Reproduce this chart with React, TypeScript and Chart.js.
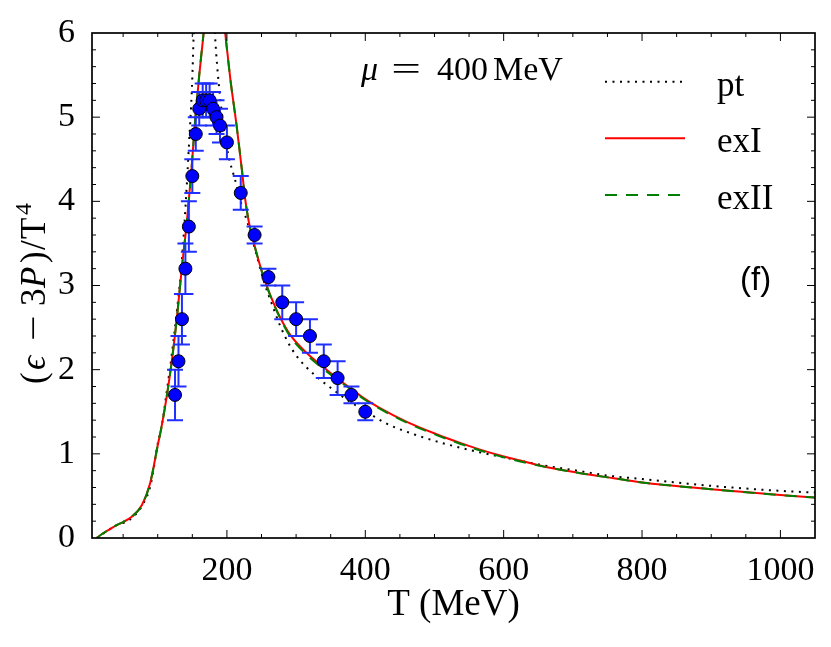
import React, { useEffect, useRef } from "react";
import { Chart, registerables } from "chart.js";

Chart.register(...registerables);

// ---- data ----
const latticeT = [125, 130, 135, 140, 145, 150, 155, 160, 165, 170, 175, 180, 185, 190, 200, 220, 240, 260, 280, 300, 320, 340, 360, 380, 400];
const latticeValues = [1.7, 2.1, 2.6, 3.2, 3.7, 4.3, 4.8, 5.1, 5.2, 5.2, 5.2, 5.1, 5.0, 4.9, 4.7, 4.1, 3.6, 3.1, 2.8, 2.6, 2.4, 2.1, 1.9, 1.7, 1.5];
const latticeErrors = [0.3, 0.3, 0.3, 0.3, 0.3, 0.2, 0.2, 0.2, 0.2, 0.2, 0.2, 0.2, 0.2, 0.2, 0.2, 0.2, 0.1, 0.1, 0.2, 0.2, 0.2, 0.2, 0.2, 0.1, 0.1];

const ptT = [12, 40, 60, 80, 90, 100, 106, 113, 120, 128, 135, 141, 145, 149.5, 152, 157, 163, 170, 177, 183, 186, 190, 195, 202, 212, 219, 230, 240, 253, 265, 277, 288, 300, 316, 335, 354, 374, 400, 428, 471, 515, 559, 605, 660, 706, 752, 800, 900, 1000, 1050];
const ptValues = [0, 0.15, 0.22, 0.42, 0.64, 1.12, 1.34, 1.74, 2.16, 2.72, 3.3, 4.05, 4.65, 5.36, 6.0, 7.2, 8.4, 8.0, 7.0, 5.95, 5.6, 5.25, 4.9, 4.55, 4.25, 4.02, 3.74, 3.45, 3.06, 2.78, 2.52, 2.33, 2.17, 2.02, 1.88, 1.76, 1.64, 1.51, 1.37, 1.23, 1.12, 1.03, 0.95, 0.86, 0.8, 0.74, 0.7, 0.62, 0.56, 0.54];

const exIT = [12, 20, 30, 40, 50, 62, 77, 89, 100, 105, 113, 120, 128, 135, 142, 148, 154, 160, 167, 175, 182, 190, 197.5, 205, 214, 222, 226, 232, 238.5, 245, 253, 267, 277, 291, 315, 344, 380, 400, 420, 460, 504, 537, 566, 595, 624, 663, 711, 759, 800, 900, 1000, 1050];
const exIValues = [0, 0.05, 0.1, 0.15, 0.19, 0.25, 0.39, 0.65, 1.1, 1.3, 1.68, 2.08, 2.64, 3.22, 3.75, 4.3, 4.95, 5.5, 6.05, 6.6, 6.9, 6.6, 6.0, 5.45, 4.9, 4.35, 4.05, 3.74, 3.52, 3.32, 3.1, 2.8, 2.62, 2.42, 2.2, 2.0, 1.77, 1.65, 1.55, 1.38, 1.23, 1.13, 1.05, 0.98, 0.92, 0.84, 0.77, 0.71, 0.66, 0.58, 0.51, 0.48];

const exIIT = [12, 20, 30, 40, 50, 62, 77, 89, 100, 105, 113, 120, 128, 135, 142, 148, 154, 160, 167, 175, 182, 190, 197.5, 205, 214, 222, 226, 232, 238.5, 245, 253, 267, 277, 291, 315, 344, 380, 400, 420, 460, 504, 537, 566, 595, 624, 663, 711, 759, 800, 900, 1000, 1050];
const exIIValues = [0, 0.05, 0.1, 0.15, 0.19, 0.25, 0.39, 0.65, 1.1, 1.3, 1.68, 2.08, 2.64, 3.22, 3.75, 4.3, 4.95, 5.5, 6.05, 6.6, 6.9, 6.6, 6.0, 5.45, 4.9, 4.35, 4.05, 3.74, 3.52, 3.32, 3.1, 2.79, 2.61, 2.4, 2.18, 1.98, 1.76, 1.64, 1.54, 1.37, 1.22, 1.12, 1.04, 0.97, 0.91, 0.84, 0.77, 0.71, 0.66, 0.58, 0.51, 0.48];

const xTickValues = [200, 400, 600, 800, 1000];
const yTickValues = [0, 1, 2, 3, 4, 5, 6];
const xRange = [5, 1050];
const yRange = [0, 6];
const xMinorStep = 50;
const yMinorStep = 0.2;

const legendLabels = ["pt", "exI", "exII"];
const chemicalPotentialText = ["\u03bc", "=", "400", "MeV"];
const panelLabel = "(f)";
const xTitle = "T (MeV)";
// y title glyphs: text, italic?, superscript?
const yTitleGlyphs: [string, boolean, boolean][] = [
  ["(", false, false],
  ["\u03f5", true, false],
  ["\u2212", false, false],
  ["3", false, false],
  ["P", true, false],
  [")", false, false],
  ["/", false, false],
  ["T", false, false],
  ["4", false, true],
];
// layout: offset of each glyph along the rotated title (px)
const yTitleOffsets = [0, 14, 43, 78, 96, 121, 134, 145, 169];

const SERIF = '"Liberation Serif", "DejaVu Serif", serif';
const SANS = '"Liberation Sans", "DejaVu Sans", sans-serif';

const PT_DASH = [2, 5.5];
const EXII_DASH = [12, 9];

const errorBarsPlugin = {
  id: "errorBars",
  beforeDatasetDraw(chart: any, args: any) {
    if (args.index !== 0) return;
    const { ctx, scales } = chart;
    const xs = scales.x;
    const ys = scales.y;
    ctx.save();
    ctx.strokeStyle = "#1f2fff";
    ctx.lineWidth = 2;
    latticeT.forEach((t, i) => {
      const x = xs.getPixelForValue(t);
      const yt = ys.getPixelForValue(latticeValues[i] + latticeErrors[i]);
      const yb = ys.getPixelForValue(latticeValues[i] - latticeErrors[i]);
      ctx.beginPath();
      ctx.moveTo(x, yt);
      ctx.lineTo(x, yb);
      ctx.moveTo(x - 8, yt);
      ctx.lineTo(x + 8, yt);
      ctx.moveTo(x - 8, yb);
      ctx.lineTo(x + 8, yb);
      ctx.stroke();
    });
    ctx.restore();
  },
};

const framePlugin = {
  id: "frameTicks",
  afterDraw(chart: any) {
    const { ctx, chartArea: a, scales } = chart;
    const xs = scales.x;
    const ys = scales.y;
    ctx.save();
    ctx.strokeStyle = "#000";
    ctx.lineWidth = 1;
    const line = (x1: number, y1: number, x2: number, y2: number) => {
      ctx.beginPath();
      ctx.moveTo(x1, y1);
      ctx.lineTo(x2, y2);
      ctx.stroke();
    };
    const nx = Math.floor(xRange[1] / xMinorStep);
    for (let i = 1; i <= nx; i++) {
      const v = i * xMinorStep;
      if (v <= xRange[0] || v >= xRange[1]) continue;
      const major = xTickValues.includes(v);
      const len = major ? 8 : 4;
      const x = xs.getPixelForValue(v);
      line(x, a.bottom, x, a.bottom - len);
      line(x, a.top, x, a.top + len);
    }
    const ny = Math.round((yRange[1] - yRange[0]) / yMinorStep);
    for (let i = 1; i < ny; i++) {
      const v = yRange[0] + i * yMinorStep;
      const major = i % 5 === 0;
      const len = major ? 8 : 4;
      const y = ys.getPixelForValue(v);
      line(a.left, y, a.left + len, y);
      line(a.right, y, a.right - len, y);
    }
    ctx.lineWidth = 1.7;
    ctx.strokeRect(a.left, a.top, a.right - a.left, a.bottom - a.top);

    // y axis title: (ϵ − 3P)/T⁴, rotated
    const fs = 35;
    ctx.save();
    ctx.translate(45, 384);
    ctx.rotate(-Math.PI / 2);
    ctx.fillStyle = "#000";
    ctx.textBaseline = "alphabetic";
    ctx.textAlign = "left";
    yTitleGlyphs.forEach(([t, it, sup], i) => {
      const size = sup ? Math.round(fs * 0.68) : fs;
      ctx.font = `${it ? "italic " : ""}${size}px ${SERIF}`;
      if (t === "\u2212") {
        ctx.save();
        ctx.translate(yTitleOffsets[i], 0);
        ctx.scale(1.3, 1);
        ctx.fillText(t, 0, 0);
        ctx.restore();
      } else {
        ctx.fillText(t, yTitleOffsets[i], sup ? -14 : 0);
      }
    });
    ctx.restore();

    // mu annotation
    ctx.fillStyle = "#000";
    ctx.textBaseline = "alphabetic";
    ctx.textAlign = "left";
    ctx.font = `italic 34px ${SERIF}`;
    ctx.fillText(chemicalPotentialText[0], 361, 80);
    ctx.font = `34px ${SERIF}`;
    ctx.save();
    ctx.translate(406, 80);
    ctx.scale(1.55, 1);
    ctx.textAlign = "center";
    ctx.fillText(chemicalPotentialText[1], 0, 0);
    ctx.restore();
    ctx.textAlign = "left";
    ctx.fillText(chemicalPotentialText[2], 437, 80);
    ctx.fillText(chemicalPotentialText[3], 493, 80);

    // legend
    const lx1 = 605;
    const lx2 = 685;
    const ly = [81.7, 138.3, 195];
    const styles = [
      { color: "#000", dash: PT_DASH, w: 2 },
      { color: "#ff0000", dash: [] as number[], w: 2 },
      { color: "#008000", dash: EXII_DASH, w: 2 },
    ];
    styles.forEach((s, i) => {
      ctx.save();
      ctx.strokeStyle = s.color;
      ctx.lineWidth = s.w;
      ctx.setLineDash(s.dash);
      ctx.beginPath();
      ctx.moveTo(lx1, ly[i]);
      ctx.lineTo(lx2, ly[i]);
      ctx.stroke();
      ctx.restore();
      ctx.font = `35px ${SERIF}`;
      ctx.fillStyle = "#000";
      ctx.textAlign = "left";
      ctx.fillText(legendLabels[i], 717, ly[i] + 14);
    });

    // panel label
    ctx.font = `33px ${SANS}`;
    ctx.fillText(panelLabel, 740, 290);
    ctx.restore();
  },
};

export default function App() {
  const canvasRef = useRef<HTMLCanvasElement | null>(null);

  useEffect(() => {
    document.body.style.margin = "0";
    const canvas = canvasRef.current;
    if (!canvas) return;
    const toXY = (xs: number[], ys: number[]) => xs.map((x, i) => ({ x, y: ys[i] }));
    const tickFont = { family: SERIF, size: 34 };
    const chart = new Chart(canvas, {
      type: "scatter",
      data: {
        datasets: [
          {
            label: "lattice",
            data: toXY(latticeT, latticeValues),
            showLine: false,
            pointRadius: 6.5,
            pointBackgroundColor: "#0000ff",
            pointBorderColor: "#000",
            pointBorderWidth: 1,
            order: 0,
          },
          {
            label: "exII",
            data: toXY(exIIT, exIIValues),
            showLine: true,
            borderColor: "#008000",
            borderWidth: 2,
            borderDash: EXII_DASH,
            pointRadius: 0,
            cubicInterpolationMode: "monotone",
            order: 1,
          },
          {
            label: "exI",
            data: toXY(exIT, exIValues),
            showLine: true,
            borderColor: "#ff0000",
            borderWidth: 2,
            pointRadius: 0,
            cubicInterpolationMode: "monotone",
            order: 2,
          },
          {
            label: "pt",
            data: toXY(ptT, ptValues),
            showLine: true,
            borderColor: "#000",
            borderWidth: 2,
            borderDash: PT_DASH,
            pointRadius: 0,
            cubicInterpolationMode: "monotone",
            order: 3,
          },
        ] as any,
      },
      options: {
        animation: false,
        responsive: false,
        maintainAspectRatio: false,
        layout: { padding: { top: 33, right: 16, left: 0, bottom: 0 } },
        plugins: {
          legend: { display: false },
          tooltip: { enabled: false },
        },
        scales: {
          x: {
            type: "linear",
            min: xRange[0],
            max: xRange[1],
            grid: { display: false },
            border: { display: false },
            afterBuildTicks: (s: any) => {
              s.ticks = xTickValues.map((v) => ({ value: v }));
            },
            afterFit: (s: any) => {
              s.height = 109;
            },
            ticks: {
              autoSkip: false,
              maxRotation: 0,
              padding: 5,
              color: "#000",
              font: tickFont,
              callback: (v: any) => String(v),
            },
            title: {
              display: true,
              text: xTitle,
              color: "#000",
              font: { family: SERIF, size: 37 },
              padding: { top: 0, bottom: 20 },
            },
          },
          y: {
            type: "linear",
            min: yRange[0],
            max: yRange[1],
            grid: { display: false },
            border: { display: false },
            afterBuildTicks: (s: any) => {
              s.ticks = yTickValues.map((v) => ({ value: v }));
            },
            afterFit: (s: any) => {
              s.width = 92;
            },
            ticks: {
              autoSkip: false,
              padding: 9,
              color: "#000",
              font: tickFont,
              callback: (v: any) => String(v),
            },
          },
        },
      } as any,
      plugins: [errorBarsPlugin, framePlugin],
    });
    return () => chart.destroy();
  }, []);

  return (
    <canvas
      ref={canvasRef}
      width={831}
      height={647}
      style={{ display: "block", width: 831, height: 647 }}
    />
  );
}
